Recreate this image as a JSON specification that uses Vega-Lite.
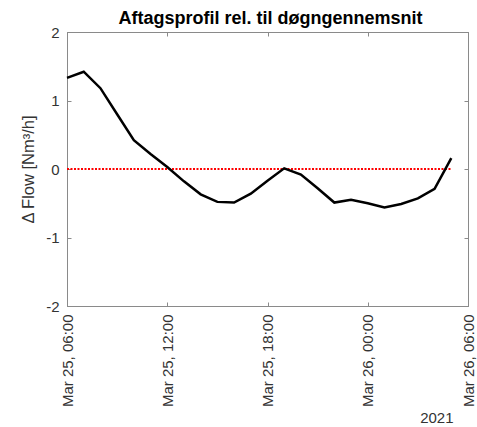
{
  "$schema": "https://vega.github.io/schema/vega-lite/v6.json",
  "autosize": "none",
  "width": 401,
  "height": 274,
  "padding": {"left": 67, "top": 32, "right": 9, "bottom": 121},
  "background": "white",
  "config": {
    "font": "Liberation Sans",
    "view": {"stroke": "#8a8a8a", "strokeWidth": 1}
  },
  "title": {
    "text": "Aftagsprofil rel. til døgngennemsnit",
    "fontSize": 18,
    "fontWeight": "bold",
    "color": "#000000",
    "anchor": "middle",
    "frame": "group",
    "baseline": "alphabetic",
    "offset": 6,
    "dx": 3,
    "dy": 23
  },
  "datasets": {
    "profile": [
      {"time": "2021-03-25T06:00", "flow": 1.33},
      {"time": "2021-03-25T07:00", "flow": 1.42},
      {"time": "2021-03-25T08:00", "flow": 1.18},
      {"time": "2021-03-25T09:00", "flow": 0.80},
      {"time": "2021-03-25T10:00", "flow": 0.42},
      {"time": "2021-03-25T11:00", "flow": 0.22},
      {"time": "2021-03-25T12:00", "flow": 0.03},
      {"time": "2021-03-25T13:00", "flow": -0.18},
      {"time": "2021-03-25T14:00", "flow": -0.37},
      {"time": "2021-03-25T15:00", "flow": -0.48},
      {"time": "2021-03-25T16:00", "flow": -0.49},
      {"time": "2021-03-25T17:00", "flow": -0.36},
      {"time": "2021-03-25T18:00", "flow": -0.17},
      {"time": "2021-03-25T19:00", "flow": 0.01},
      {"time": "2021-03-25T20:00", "flow": -0.08},
      {"time": "2021-03-25T21:00", "flow": -0.28},
      {"time": "2021-03-25T22:00", "flow": -0.49},
      {"time": "2021-03-25T23:00", "flow": -0.45},
      {"time": "2021-03-26T00:00", "flow": -0.50},
      {"time": "2021-03-26T01:00", "flow": -0.56},
      {"time": "2021-03-26T02:00", "flow": -0.51},
      {"time": "2021-03-26T03:00", "flow": -0.43},
      {"time": "2021-03-26T04:00", "flow": -0.29},
      {"time": "2021-03-26T05:00", "flow": 0.16}
    ],
    "zero": [
      {"time": "2021-03-25T06:00", "flow": 0},
      {"time": "2021-03-26T05:00", "flow": 0}
    ]
  },
  "layer": [
    {
      "data": {"name": "zero"},
      "mark": {"type": "line", "color": "#ff0000", "strokeWidth": 2, "strokeDash": [2, 1.5]},
      "encoding": {
        "x": {
          "field": "time", "type": "temporal",
          "scale": {"domain": [{"year": 2021, "month": 3, "date": 25, "hours": 6}, {"year": 2021, "month": 3, "date": 26, "hours": 6}]},
          "axis": {
            "orient": "top", "labels": false, "title": null, "grid": false,
            "values": [
              {"year": 2021, "month": 3, "date": 25, "hours": 6},
              {"year": 2021, "month": 3, "date": 25, "hours": 12},
              {"year": 2021, "month": 3, "date": 25, "hours": 18},
              {"year": 2021, "month": 3, "date": 26, "hours": 0},
              {"year": 2021, "month": 3, "date": 26, "hours": 6}
            ],
            "tickSize": -4, "tickColor": "#8a8a8a", "domainColor": "#8a8a8a"
          }
        },
        "y": {
          "field": "flow", "type": "quantitative",
          "scale": {"domain": [-2, 2], "nice": false},
          "axis": {
            "orient": "right", "labels": false, "title": null, "grid": false,
            "values": [-2, -1, 0, 1, 2],
            "tickSize": -4, "tickColor": "#8a8a8a", "domainColor": "#8a8a8a"
          }
        }
      }
    },
    {
      "data": {"name": "profile"},
      "mark": {"type": "line", "color": "#000000", "strokeWidth": 2.5},
      "encoding": {
        "x": {
          "field": "time", "type": "temporal",
          "scale": {"domain": [{"year": 2021, "month": 3, "date": 25, "hours": 6}, {"year": 2021, "month": 3, "date": 26, "hours": 6}]},
          "axis": {
            "orient": "bottom", "grid": false,
            "values": [
              {"year": 2021, "month": 3, "date": 25, "hours": 6},
              {"year": 2021, "month": 3, "date": 25, "hours": 12},
              {"year": 2021, "month": 3, "date": 25, "hours": 18},
              {"year": 2021, "month": 3, "date": 26, "hours": 0},
              {"year": 2021, "month": 3, "date": 26, "hours": 6}
            ],
            "format": "%b %d, %H:%M",
            "labelAngle": -90, "labelAlign": "right", "labelBaseline": "middle",
            "labelFontSize": 15, "labelColor": "#333333", "labelPadding": 12,
            "labelFlush": false, "labelOverlap": false, "labelBound": false,
            "tickSize": -4, "tickColor": "#8a8a8a", "domainColor": "#8a8a8a",
            "title": "2021", "titleFontSize": 15, "titleFontWeight": "normal", "titleColor": "#333333",
            "titleAlign": "right", "titleBaseline": "bottom", "titleX": 386, "titleY": 119
          }
        },
        "y": {
          "field": "flow", "type": "quantitative",
          "scale": {"domain": [-2, 2], "nice": false},
          "axis": {
            "orient": "left", "grid": false,
            "values": [-2, -1, 0, 1, 2],
            "labelExpr": "toString(datum.value)",
            "labelFontSize": 15, "labelColor": "#333333", "labelPadding": 12,
            "tickSize": -4, "tickColor": "#8a8a8a", "domainColor": "#8a8a8a",
            "title": "Δ Flow [Nm³/h]", "titleFontSize": 16.5, "titleFontWeight": "normal", "titleColor": "#333333",
            "titlePadding": 9
          }
        }
      }
    }
  ],
  "resolve": {"axis": {"x": "independent", "y": "independent"}}
}
